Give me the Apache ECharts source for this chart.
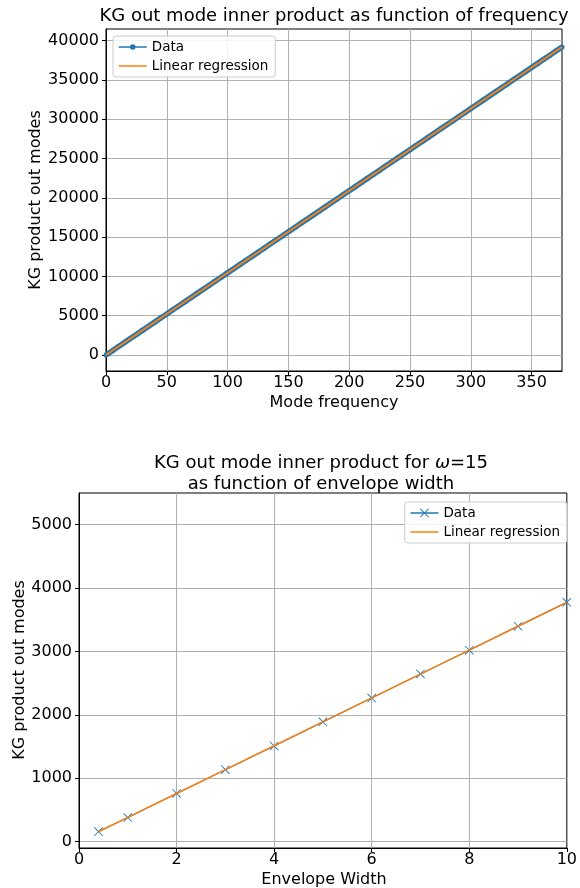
<!DOCTYPE html>
<html>
<head>
<meta charset="utf-8">
<script src="https://cdn.jsdelivr.net/npm/echarts@6/dist/echarts.min.js"></script>
<style>
  html, body { margin: 0; padding: 0; background: #ffffff; }
  #chart { width: 580px; height: 888px; }
</style>
</head>
<body>
<div id="chart"></div>
<script>
// Upper panel: KG out-mode inner product against mode frequency
const freqX = [0, 5, 10, 15, 20, 25, 30, 35, 40, 45, 50, 55, 60, 65, 70, 75, 80, 85, 90, 95,
  100, 105, 110, 115, 120, 125, 130, 135, 140, 145, 150, 155, 160, 165, 170, 175, 180, 185, 190, 195,
  200, 205, 210, 215, 220, 225, 230, 235, 240, 245, 250, 255, 260, 265, 270, 275, 280, 285, 290, 295,
  300, 305, 310, 315, 320, 325, 330, 335, 340, 345, 350, 355, 360, 365, 370, 375];
const freqProduct = [0, 520, 1045, 1570, 2090, 2610, 3135, 3660, 4180, 4700, 5225, 5750, 6270, 6790, 7315, 7840, 8360, 8880, 9405, 9930,
  10450, 10970, 11495, 12020, 12540, 13060, 13585, 14110, 14630, 15150, 15675, 16200, 16720, 17240, 17765, 18290, 18810, 19330, 19855, 20380,
  20900, 21420, 21945, 22470, 22990, 23510, 24035, 24560, 25080, 25600, 26125, 26650, 27170, 27690, 28215, 28740, 29260, 29780, 30305, 30830,
  31350, 31870, 32395, 32920, 33440, 33960, 34485, 35010, 35530, 36050, 36575, 37100, 37620, 38140, 38665, 39190];
const freqFitX = [0, 375];
const freqFitY = [0, 39190];

// Lower panel: inner product for omega = 15 against envelope width
const widthX = [0.4, 1, 2, 3, 4, 5, 6, 7, 8, 9, 10];
const widthProduct = [160, 380, 760, 1135, 1510, 1890, 2265, 2645, 3020, 3400, 3775];
const widthFit = [156, 382, 759, 1136, 1513, 1890, 2267, 2644, 3021, 3398, 3775];

const legendLabels = {
  freqData: 'Data', freqFit: 'Linear regression',
  widthData: 'Data', widthFit: 'Linear regression'
};

const FONT = '"DejaVu Sans", sans-serif';
const BLUE = '#1f77b4';
const ORANGE = '#ff7f0e';
const GRID_GRAY = '#b0b0b0';
const TICK_SIZE = 16;
const LABEL_SIZE = 16;
const TITLE_SIZE = 18;

const pairs = (xs, ys) => xs.map((x, i) => [x, ys[i]]);

// X-shaped marker drawn as two thin filled bars
const crossPath = 'path://M0,0.7 L0.7,0 L10,9.3 L9.3,10 Z M9.3,0 L10,0.7 L0.7,10 L0,9.3 Z';

function tickLabels(margin, extra) {
  return Object.assign({
    color: '#000', fontSize: TICK_SIZE, fontFamily: FONT, margin: margin,
    formatter: v => String(v)
  }, extra);
}

function valueAxis(gridIndex, extra) {
  return Object.assign({
    type: 'value',
    gridIndex: gridIndex,
    axisLine: { show: true, onZero: false, lineStyle: { color: '#000', width: 1 } },
    axisTick: { show: true, length: 4, lineStyle: { color: '#000', width: 1 } },
    splitLine: { show: true, showMinLine: false, showMaxLine: false, lineStyle: { color: GRID_GRAY, width: 1 } }
  }, extra);
}

function legendBox(pos, names, itemHeight) {
  return Object.assign({
    orient: 'vertical',
    data: names.map((n, i) => i === 0 ? { name: n } : { name: n, itemStyle: { opacity: 0 } }),
    formatter: n => legendLabels[n],
    selectedMode: false,
    itemWidth: 28,
    itemHeight: itemHeight,
    itemGap: 5,
    padding: [4, 7, 4, 5],
    backgroundColor: 'rgba(255,255,255,0.85)',
    borderColor: '#cccccc',
    borderWidth: 1,
    borderRadius: 3,
    lineStyle: { width: 1.5 },
    textStyle: { color: '#000', fontSize: 13.5, fontFamily: FONT }
  }, pos);
}

function label(text, x, y, size, rotate) {
  return {
    type: 'text', x: x, y: y, rotation: rotate ? Math.PI / 2 : 0,
    style: { text: text, font: size + 'px ' + FONT, fill: '#000', align: 'center', verticalAlign: 'middle' }
  };
}

const chart = echarts.init(document.getElementById('chart'), null, { renderer: 'canvas' });

chart.setOption({
  animation: false,
  backgroundColor: '#ffffff',
  grid: [
    { left: 106, top: 29, width: 456, height: 342, show: true, borderColor: '#000', borderWidth: 1, backgroundColor: 'transparent' },
    { left: 79, top: 493, width: 490, height: 355, show: true, borderColor: '#000', borderWidth: 1, backgroundColor: 'transparent' }
  ],
  xAxis: [
    valueAxis(0, { min: 0, max: 375, interval: 50, axisLabel: tickLabels(4, { showMaxLabel: false }) }),
    valueAxis(1, { min: 0, max: 10, interval: 2, axisLabel: tickLabels(4) })
  ],
  yAxis: [
    valueAxis(0, { min: -2036, max: 41475, splitNumber: 9,
      axisLabel: tickLabels(7, { showMinLabel: false, showMaxLabel: false }) }),
    valueAxis(1, { min: -100, max: 5500, splitNumber: 6,
      axisLabel: tickLabels(7, { showMinLabel: false, showMaxLabel: false }) })
  ],
  legend: [
    legendBox({ left: 113, top: 36 }, ['freqData', 'freqFit'], 7),
    legendBox({ right: 13, top: 502 }, ['widthData', 'widthFit'], 11)
  ],
  graphic: [
    label('KG out mode inner product as function of frequency', 334, 16, TITLE_SIZE),
    label('Mode frequency', 334, 403, LABEL_SIZE),
    label('KG product out modes', 36, 200, LABEL_SIZE, true),
    {
      type: 'text', x: 321, y: 463,
      style: {
        text: '{a|KG out mode inner product for }{i|ω}{a|=15}',
        font: TITLE_SIZE + 'px ' + FONT, fill: '#000', align: 'center', verticalAlign: 'middle',
        rich: {
          a: { font: TITLE_SIZE + 'px ' + FONT, fill: '#000' },
          i: { font: 'italic ' + TITLE_SIZE + 'px ' + FONT, fill: '#000' }
        }
      }
    },
    label('as function of envelope width', 321, 484, TITLE_SIZE),
    label('Envelope Width', 324, 880, LABEL_SIZE),
    label('KG product out modes', 20, 670, LABEL_SIZE, true)
  ],
  series: [
    {
      name: 'freqData', type: 'line', xAxisIndex: 0, yAxisIndex: 0,
      data: pairs(freqX, freqProduct),
      symbol: 'circle', symbolSize: 5, showSymbol: true,
      lineStyle: { color: BLUE, width: 5.5 },
      itemStyle: { color: BLUE },
      z: 2
    },
    {
      name: 'freqFit', type: 'line', xAxisIndex: 0, yAxisIndex: 0,
      data: pairs(freqFitX, freqFitY),
      symbol: 'none',
      lineStyle: { color: ORANGE, width: 2 },
      itemStyle: { color: ORANGE },
      z: 3
    },
    {
      name: 'widthData', type: 'line', xAxisIndex: 1, yAxisIndex: 1,
      data: pairs(widthX, widthProduct),
      symbol: crossPath, symbolSize: 9, showSymbol: true,
      lineStyle: { color: BLUE, width: 1.2 },
      itemStyle: { color: BLUE },
      z: 2
    },
    {
      name: 'widthFit', type: 'line', xAxisIndex: 1, yAxisIndex: 1,
      data: pairs(widthX, widthFit),
      symbol: 'none',
      lineStyle: { color: ORANGE, width: 1.5 },
      itemStyle: { color: ORANGE },
      z: 3
    }
  ]
});
</script>
</body>
</html>
